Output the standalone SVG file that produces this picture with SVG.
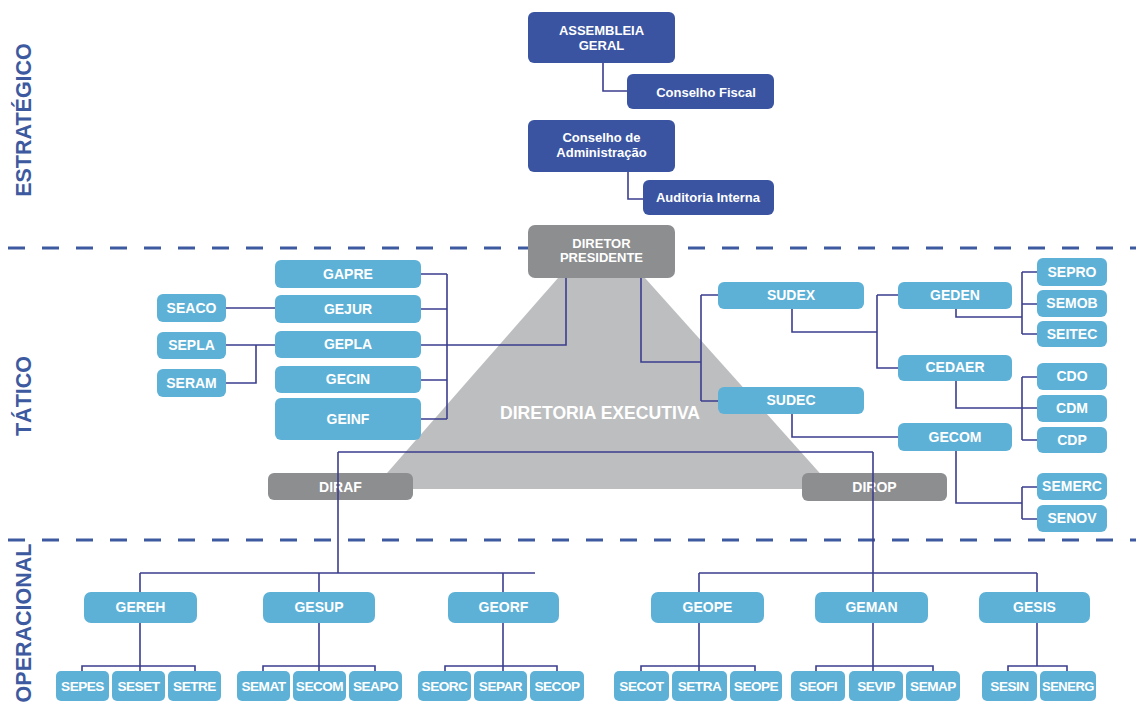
<svg xmlns="http://www.w3.org/2000/svg" width="1136" height="704" viewBox="0 0 1136 704">
<style>
.t{font-family:"Liberation Sans",Arial,sans-serif;font-weight:bold;fill:#fff;text-anchor:middle}
.s13{font-size:13px}
.s14{font-size:14px}
.s12{font-size:13.6px;letter-spacing:-0.5px}
.dk rect{fill:#3a54a1}
.lb rect{fill:#5db1d6}
.gy rect{fill:#8d8e90}
.lvl{font-family:"Liberation Sans",Arial,sans-serif;font-weight:bold;font-size:21.5px;fill:#3d5aa0;text-anchor:middle}
.dash{stroke:#3d5aa0;stroke-width:3.2;stroke-dasharray:17 17;fill:none}
#connectors path{fill:none;stroke:#3b3e8e;stroke-width:1.6}
</style>
<rect width="1136" height="704" fill="#fff"/>
<g id="levels">
<text class="lvl" transform="translate(31,120) rotate(-90)">ESTRATÉGICO</text>
<text class="lvl" transform="translate(31,396) rotate(-90)">TÁTICO</text>
<text class="lvl" transform="translate(31,623) rotate(-90)">OPERACIONAL</text>
<line class="dash" x1="8" y1="248" x2="1136" y2="248"/>
<line class="dash" x1="8" y1="540" x2="1136" y2="540"/>
</g>
<polygon id="diretoria-executiva" points="558,278 645,278 834,489 373,489" fill="#bdbec0"/>
<text class="t" x="600" y="419" style="font-size:17.6px">DIRETORIA EXECUTIVA</text>
<g class="dk">
<g id="assembleia"><rect x="528" y="12" width="147" height="51" rx="6"/><text class="t s13" x="601.5" y="35">ASSEMBLEIA</text><text class="t s13" x="601.5" y="50">GERAL</text></g>
<g id="conselho-fiscal"><rect x="627" y="74" width="147" height="35" rx="6"/><text class="t s13" x="706" y="97">Conselho Fiscal</text></g>
<g id="conselho-adm"><rect x="528" y="120" width="147" height="52" rx="6"/><text class="t s13" x="601.5" y="142">Conselho de</text><text class="t s13" x="601.5" y="157">Administração</text></g>
<g id="auditoria"><rect x="643" y="180" width="131" height="35" rx="6"/><text class="t s13" x="708" y="202">Auditoria Interna</text></g>
</g>
<g class="gy">
<g id="diretor"><rect x="528" y="225" width="147" height="53" rx="7"/><text class="t s13" x="601.5" y="248">DIRETOR</text><text class="t s13" x="601.5" y="262">PRESIDENTE</text></g>
<g id="diraf"><rect x="268" y="473" width="145" height="27" rx="6"/><text class="t s14" x="340.5" y="492">DIRAF</text></g>
<g id="dirop"><rect x="802" y="473" width="145" height="28" rx="6"/><text class="t s14" x="874.5" y="492">DIROP</text></g>
</g>
<g class="lb">
<g id="gapre"><rect x="275" y="260" width="146" height="28" rx="6"/><text class="t s14" x="348" y="279">GAPRE</text></g>
<g id="gejur"><rect x="275" y="295" width="146" height="28" rx="6"/><text class="t s14" x="348" y="314">GEJUR</text></g>
<g id="gepla"><rect x="275" y="331" width="146" height="27" rx="6"/><text class="t s14" x="348" y="349">GEPLA</text></g>
<g id="gecin"><rect x="275" y="366" width="146" height="27" rx="6"/><text class="t s14" x="348" y="384">GECIN</text></g>
<g id="geinf"><rect x="275" y="398" width="146" height="42" rx="6"/><text class="t s14" x="348" y="424">GEINF</text></g>
<g id="seaco"><rect x="157" y="294" width="69" height="28" rx="6"/><text class="t s14" x="191.5" y="313">SEACO</text></g>
<g id="sepla"><rect x="157" y="332" width="69" height="27" rx="6"/><text class="t s14" x="191.5" y="350">SEPLA</text></g>
<g id="seram"><rect x="157" y="369" width="69" height="28" rx="6"/><text class="t s14" x="191.5" y="388">SERAM</text></g>
<g id="sudex"><rect x="718" y="282" width="146" height="27" rx="6"/><text class="t s14" x="791" y="300">SUDEX</text></g>
<g id="sudec"><rect x="718" y="387" width="146" height="27" rx="6"/><text class="t s14" x="791" y="405">SUDEC</text></g>
<g id="geden"><rect x="898" y="282" width="114" height="27" rx="6"/><text class="t s14" x="955" y="300">GEDEN</text></g>
<g id="cedaer"><rect x="898" y="355" width="114" height="26" rx="6"/><text class="t s14" x="955" y="372">CEDAER</text></g>
<g id="gecom"><rect x="898" y="423" width="114" height="28" rx="6"/><text class="t s14" x="955" y="442">GECOM</text></g>
<g id="sepro"><rect x="1037" y="258" width="70" height="28" rx="6"/><text class="t s14" x="1072" y="277">SEPRO</text></g>
<g id="semob"><rect x="1037" y="290" width="70" height="27" rx="6"/><text class="t s14" x="1072" y="308">SEMOB</text></g>
<g id="seitec"><rect x="1037" y="321" width="70" height="26" rx="6"/><text class="t s14" x="1072" y="339">SEITEC</text></g>
<g id="cdo"><rect x="1037" y="363" width="70" height="27" rx="6"/><text class="t s14" x="1072" y="381">CDO</text></g>
<g id="cdm"><rect x="1037" y="395" width="70" height="27" rx="6"/><text class="t s14" x="1072" y="413">CDM</text></g>
<g id="cdp"><rect x="1037" y="427" width="70" height="26" rx="6"/><text class="t s14" x="1072" y="445">CDP</text></g>
<g id="semerc"><rect x="1037" y="473" width="70" height="27" rx="6"/><text class="t s14" x="1072" y="491">SEMERC</text></g>
<g id="senov"><rect x="1037" y="505" width="70" height="27" rx="6"/><text class="t s14" x="1072" y="523">SENOV</text></g>
<g id="gereh"><rect x="84" y="592" width="113" height="31" rx="7"/><text class="t s14" x="140.5" y="612">GEREH</text></g>
<g id="gesup"><rect x="263" y="592" width="112" height="31" rx="7"/><text class="t s14" x="319" y="612">GESUP</text></g>
<g id="georf"><rect x="448" y="592" width="111" height="31" rx="7"/><text class="t s14" x="503.5" y="612">GEORF</text></g>
<g id="geope"><rect x="651" y="592" width="113" height="31" rx="7"/><text class="t s14" x="707.5" y="612">GEOPE</text></g>
<g id="geman"><rect x="815" y="592" width="113" height="31" rx="7"/><text class="t s14" x="871.5" y="612">GEMAN</text></g>
<g id="gesis"><rect x="979" y="592" width="111" height="31" rx="7"/><text class="t s14" x="1034.5" y="612">GESIS</text></g>
<g id="sepes"><rect x="56" y="671" width="53" height="30" rx="5"/><text class="t s12" x="82.5" y="691">SEPES</text></g>
<g id="seset"><rect x="112" y="671" width="53" height="30" rx="5"/><text class="t s12" x="138.5" y="691">SESET</text></g>
<g id="setre"><rect x="168" y="671" width="53" height="30" rx="5"/><text class="t s12" x="194.5" y="691">SETRE</text></g>
<g id="semat"><rect x="237" y="671" width="53" height="30" rx="5"/><text class="t s12" x="263.5" y="691">SEMAT</text></g>
<g id="secom"><rect x="293" y="671" width="53" height="30" rx="5"/><text class="t s12" x="319.5" y="691">SECOM</text></g>
<g id="seapo"><rect x="349" y="671" width="53" height="30" rx="5"/><text class="t s12" x="375.5" y="691">SEAPO</text></g>
<g id="seorc"><rect x="418" y="671" width="53" height="30" rx="5"/><text class="t s12" x="444.5" y="691">SEORC</text></g>
<g id="separ"><rect x="474" y="671" width="53" height="30" rx="5"/><text class="t s12" x="500.5" y="691">SEPAR</text></g>
<g id="secop"><rect x="530" y="671" width="54" height="30" rx="5"/><text class="t s12" x="557" y="691">SECOP</text></g>
<g id="secot"><rect x="614" y="671" width="55" height="30" rx="5"/><text class="t s12" x="641.5" y="691">SECOT</text></g>
<g id="setra"><rect x="672" y="671" width="55" height="30" rx="5"/><text class="t s12" x="699.5" y="691">SETRA</text></g>
<g id="seope"><rect x="730" y="671" width="52" height="30" rx="5"/><text class="t s12" x="756" y="691">SEOPE</text></g>
<g id="seofi"><rect x="791" y="671" width="54" height="30" rx="5"/><text class="t s12" x="818" y="691">SEOFI</text></g>
<g id="sevip"><rect x="849" y="671" width="54" height="30" rx="5"/><text class="t s12" x="876" y="691">SEVIP</text></g>
<g id="semap"><rect x="906" y="671" width="54" height="30" rx="5"/><text class="t s12" x="933" y="691">SEMAP</text></g>
<g id="sesin"><rect x="982" y="671" width="55" height="30" rx="5"/><text class="t s12" x="1009.5" y="691">SESIN</text></g>
<g id="senerg"><rect x="1040" y="671" width="56" height="30" rx="5"/><text class="t s12" x="1068" y="691" textLength="52" lengthAdjust="spacingAndGlyphs">SENERG</text></g>
</g>
<g id="connectors">
<path d="M603,63 V91 H627"/>
<path d="M628,172 V199 H643"/>
<path d="M226,308 H275"/>
<path d="M226,345 H275 M226,383 H256 V345"/>
<path d="M421,274 H447 M421,309 H447 M421,380 H447 M421,419 H447 M447,274 V419"/>
<path d="M421,345 H566 V278"/>
<path d="M641,278 V362 H701 M701,295 V401 M701,295 H718 M701,401 H718"/>
<path d="M792,309 V332 H877 M877,295 V368 H898 M877,295 H898"/>
<path d="M956,309 V317 H1022 M1022,272 V334 M1022,272 H1037 M1022,304 H1037 M1022,334 H1037"/>
<path d="M956,381 V408 H1037 M1022,377 V440 M1022,377 H1037 M1022,440 H1037"/>
<path d="M792,414 V437 H898"/>
<path d="M956,451 V503 H1022 M1022,487 V519 M1022,487 H1037 M1022,519 H1037"/>
<path d="M338,452 H873 M338,452 V573 M873,452 V592"/>
<path d="M140,573 H535 M140,573 V592 M319,573 V592 M503,573 V592"/>
<path d="M699,573 H1037 M699,573 V592 M1037,573 V592"/>
<path d="M140,623 V671 M82,671 V666 H195 V671"/>
<path d="M319,623 V671 M263,671 V666 H375 V671"/>
<path d="M503,623 V671 M445,671 V666 H557 V671"/>
<path d="M699,623 V671 M641,671 V666 H755 V671"/>
<path d="M873,623 V671 M816,671 V666 H933 V671"/>
<path d="M1037,623 V666 M1008,671 V666 H1067 V671"/>
</g>
</svg>
